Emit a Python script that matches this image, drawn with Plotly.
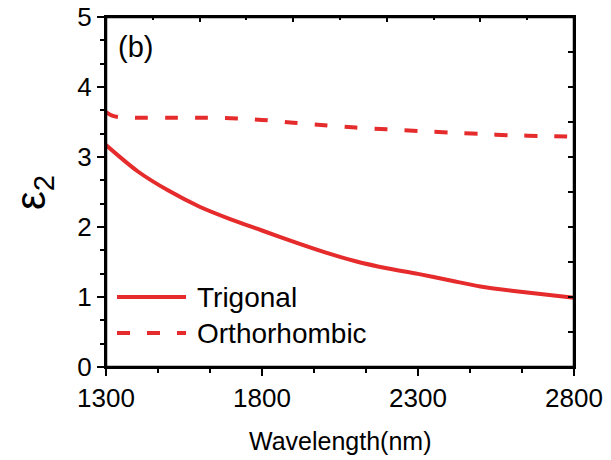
import plotly.graph_objects as go

# ---- data ----
wl_trigonal = [1300, 1400, 1500, 1600, 1700, 1800, 1900, 2000, 2100, 2200,
               2300, 2400, 2500, 2600, 2700, 2800]
eps2_trigonal = [3.17, 2.80, 2.52, 2.29, 2.11, 1.95, 1.79, 1.64, 1.51, 1.41,
                 1.33, 1.24, 1.15, 1.09, 1.04, 0.99]

wl_ortho = [1300, 1320, 1340, 1400, 1500, 1600, 1700, 1800, 1900, 2000,
            2100, 2200, 2300, 2400, 2500, 2600, 2700, 2800]
eps2_ortho = [3.64, 3.59, 3.57, 3.56, 3.56, 3.56, 3.555, 3.53, 3.49, 3.455,
              3.42, 3.395, 3.37, 3.35, 3.33, 3.31, 3.30, 3.29]

x_ticks = [1300, 1800, 2300, 2800]
y_ticks = [0, 1, 2, 3, 4, 5]
series_names = ["Trigonal", "Orthorhombic"]
panel_label = "(b)"

RED = "#e52b2b"
FONT = "Liberation Sans, Arial, Helvetica, sans-serif"

fig = go.Figure()
fig.add_trace(go.Scatter(x=wl_trigonal, y=eps2_trigonal, mode="lines",
                         name=series_names[0],
                         line=dict(color=RED, width=4, shape="spline", smoothing=0.8),
                         showlegend=False))
fig.add_trace(go.Scatter(x=wl_ortho, y=eps2_ortho, mode="lines",
                         name=series_names[1],
                         line=dict(color=RED, width=4, dash="13px,17px",
                                   shape="spline", smoothing=0.8),
                         showlegend=False))
# empty trace to activate the mirrored (top/right) axes
fig.add_trace(go.Scatter(x=[None], y=[None], xaxis="x2", yaxis="y2", showlegend=False,
                         hoverinfo="skip"))

axis_common = dict(showline=True, linecolor="black", linewidth=2, showgrid=False,
                   zeroline=False, tickcolor="black", tickwidth=1.5,
                   automargin=False)

fig.update_layout(
    width=611, height=460,
    margin=dict(l=106, r=37, t=17, b=93),
    paper_bgcolor="white", plot_bgcolor="white",
    font=dict(family=FONT, color="black"),
    showlegend=False,
    xaxis=dict(**axis_common, mirror=True, range=[1300, 2800], tickvals=x_ticks,
               ticks="outside", ticklen=7, ticklabeloverflow="allow",
               minor=dict(dtick=500 / 3, tick0=1300, ticks="outside", ticklen=4,
                          tickcolor="black", tickwidth=1.5),
               tickfont=dict(size=26, family=FONT)),
    yaxis=dict(**axis_common, mirror=True, range=[0, 5], tickvals=y_ticks,
               ticks="outside", ticklen=7, ticklabeloverflow="allow",
               minor=dict(dtick=1 / 3, tick0=0, ticks="outside", ticklen=4,
                          tickcolor="black", tickwidth=1.5),
               tickfont=dict(size=26, family=FONT)),
    xaxis2=dict(**axis_common, overlaying="x", side="top", range=[1300, 2800],
                tick0=1300, dtick=300, ticks="inside", ticklen=5,
                showticklabels=False,
                minor=dict(dtick=150, tick0=1300, ticks="inside", ticklen=3,
                           tickcolor="black", tickwidth=1.5)),
    yaxis2=dict(**axis_common, overlaying="y", side="right", range=[0, 5],
                tick0=0, dtick=0.5, ticks="inside", ticklen=6,
                showticklabels=False),
)

# frame around the plot area (guarantees the top border)
fig.add_shape(type="rect", xref="paper", yref="paper", x0=0, x1=1, y0=0, y1=1,
              line=dict(color="black", width=2.5), layer="above")

# axis titles
fig.add_annotation(xref="paper", yref="paper", x=0.5, y=-0.212, text="Wavelength(nm)",
                   showarrow=False, xanchor="center", yanchor="middle",
                   font=dict(size=25, family=FONT, color="black"))
fig.add_annotation(xref="paper", yref="paper", x=-0.156, y=0.5, text="ε<sub>2</sub>",
                   showarrow=False, xanchor="center", yanchor="middle", textangle=-90,
                   font=dict(size=42, family=FONT, color="black"))

# custom legend (long line samples, as in the reference)
leg_x0, leg_x1, text_x = 0.0235, 0.171, 0.19
leg_rows = [(0.20, None), (0.097, "13px,17px")]
for (yy, dash), name in zip(leg_rows, series_names):
    fig.add_shape(type="line", xref="paper", yref="paper",
                  x0=leg_x0, x1=leg_x1, y0=yy, y1=yy,
                  line=dict(color=RED, width=4, dash=dash if dash else "solid"))
    fig.add_annotation(xref="paper", yref="paper", x=text_x, y=yy, text=name,
                       showarrow=False, xanchor="left", yanchor="middle",
                       font=dict(size=28, family=FONT, color="black"))

fig.add_annotation(xref="paper", yref="paper", x=0.022, y=0.914, text=panel_label,
                   showarrow=False, xanchor="left", yanchor="middle",
                   font=dict(size=29, family=FONT, color="black"))

# remove the browser's default 8px page margin so the figure sits at (0, 0)
fig.write_html("out.html", config={"displayModeBar": False},
               post_script="document.body.style.margin='0';document.body.style.padding='0';")
